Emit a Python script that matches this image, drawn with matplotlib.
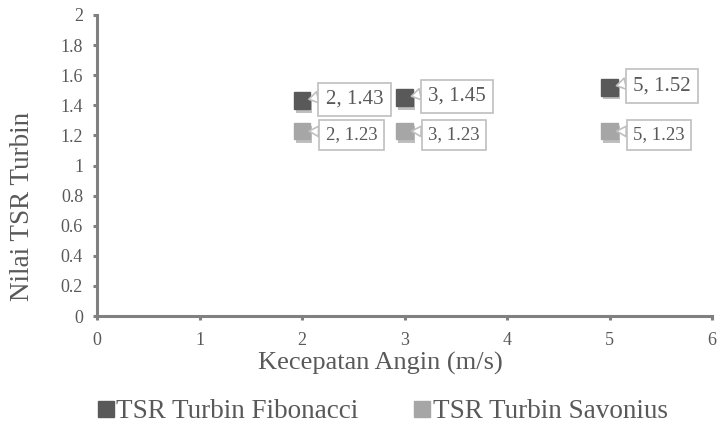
import matplotlib
matplotlib.use("Agg")
import matplotlib.pyplot as plt
import matplotlib.patheffects as pe
from matplotlib.lines import Line2D

plt.rcParams['font.family'] = ['Liberation Serif', 'DejaVu Serif']

x_vals = [2, 3, 5]
fibonacci = [1.43, 1.45, 1.52]
savonius = [1.23, 1.23, 1.23]
x_ticks = [0, 1, 2, 3, 4, 5, 6]
y_ticks = [0, 0.2, 0.4, 0.6, 0.8, 1, 1.2, 1.4, 1.6, 1.8, 2]
y_tick_labels = ['0', '0.2', '0.4', '0.6', '0.8', '1', '1.2', '1.4', '1.6', '1.8', '2']
series_names = ['TSR Turbin Fibonacci', 'TSR Turbin Savonius']

text_col = '#595959'
axis_col = '#808080'
dark = '#595959'
light = '#a6a6a6'

fig = plt.figure(figsize=(7.17, 4.26), dpi=100)
ax = fig.add_axes([0.1353, 0.258, 0.858, 0.707])

shadow = [pe.SimplePatchShadow(offset=(1.5, -2.5), shadow_rgbFace='#000000', alpha=0.25), pe.Normal()]

ax.plot(x_vals, fibonacci, ls='none', marker='s', ms=12, color=dark,
        path_effects=shadow, clip_on=False)
ax.plot(x_vals, savonius, ls='none', marker='s', ms=12, color=light,
        path_effects=shadow, clip_on=False)

def labels(xs, ys, size, dy):
    for x, y in zip(xs, ys):
        ax.annotate(f'{x}, {y:.2f}', xy=(x, y), xytext=(17, dy), textcoords='offset points',
                    ha='left', va='center', fontsize=size, color=text_col,
                    bbox=dict(boxstyle='square,pad=0.35', fc='white', ec='#bfbfbf', lw=1.2),
                    arrowprops=dict(arrowstyle='wedge,tail_width=0.55', fc='white', ec='#bfbfbf',
                                    lw=1.2, shrinkA=0, shrinkB=5, relpos=(0, 0.7)))

labels(x_vals, fibonacci, 15, 1)
labels(x_vals, savonius, 13.5, -3)

ax.set_xlim(0, 6)
ax.set_ylim(0, 2)
ax.set_xticks(x_ticks)
ax.set_yticks(y_ticks)
ax.set_yticklabels(y_tick_labels)

for s in ['top', 'right']:
    ax.spines[s].set_visible(False)
for s in ['left', 'bottom']:
    ax.spines[s].set_color(axis_col)
    ax.spines[s].set_linewidth(2.2)
ax.tick_params(colors=axis_col, width=2.2, length=3, labelsize=13, labelcolor=text_col)
ax.tick_params(axis='y', pad=7)
ax.tick_params(axis='x', pad=8.5)

fig.text(0.531, 0.146, 'Kecepatan Angin (m/s)', fontsize=19, color=text_col,
         ha='center', va='center')
fig.text(0.031, 0.516, 'Nilai TSR Turbin', fontsize=19.5, color=text_col,
         ha='center', va='center', rotation=90)

handles = [Line2D([], [], ls='none', marker='s', ms=11, color=dark),
           Line2D([], [], ls='none', marker='s', ms=11, color=light)]
fig.legend(handles, series_names, loc='center', bbox_to_anchor=(0.534, 0.033), ncol=2,
           frameon=False, fontsize=19.5, handlelength=0.6, handletextpad=0.1,
           columnspacing=2.05, labelcolor=text_col)

fig.savefig('out.png', dpi=100)
